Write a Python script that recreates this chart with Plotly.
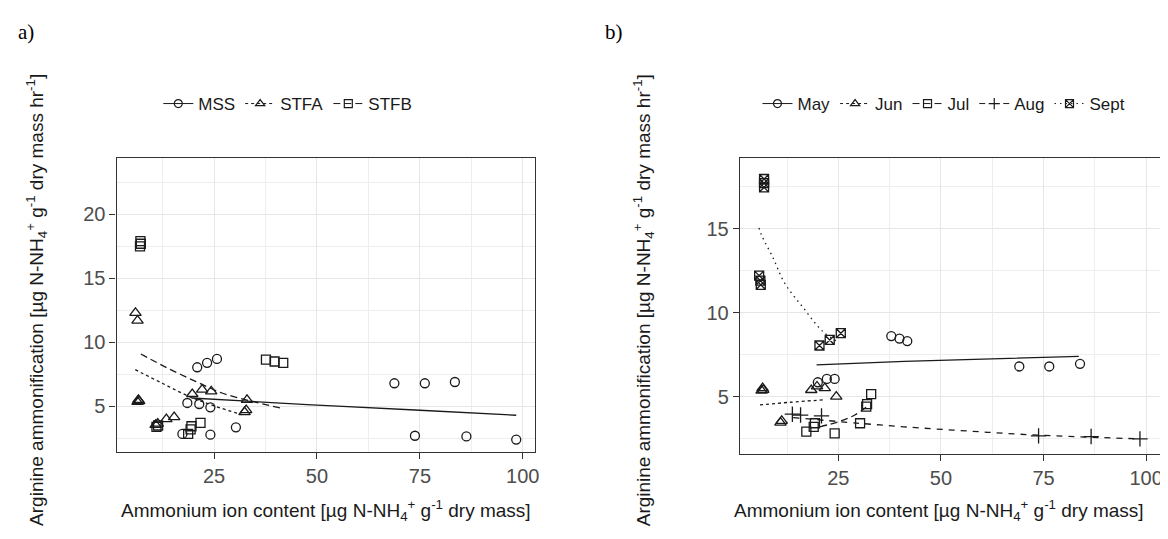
import plotly.graph_objects as go

# ---------------- Panel a data ----------------
mss_x = [18.5, 21.4, 24.1, 20.9, 23.3, 25.7, 17.3, 24.1, 30.3, 68.8, 76.2, 83.5, 73.8, 86.3, 98.4]
mss_y = [5.26, 5.18, 4.92, 8.05, 8.4, 8.7, 2.84, 2.78, 3.36, 6.8, 6.8, 6.9, 2.7, 2.65, 2.4]
stfa_x = [5.9, 6.4, 6.4, 6.6, 6.8, 10.8, 11.3, 13.4, 15.3, 19.7, 22.1, 24.3, 33.0, 32.4, 32.8]
stfa_y = [12.3, 11.7, 5.35, 5.5, 5.4, 3.55, 3.65, 4.0, 4.15, 5.96, 6.3, 6.17, 5.5, 4.55, 4.7]
stfb_x = [7.0, 7.1, 7.2, 11.0, 11.4, 18.7, 19.3, 19.5, 21.7, 37.6, 39.7, 41.8]
stfb_y = [17.5, 17.9, 17.7, 3.4, 3.5, 2.84, 3.2, 3.44, 3.7, 8.65, 8.5, 8.4]

mss_fit_x = [19.5, 47.6, 75.0, 98.4]
mss_fit_y = [5.65, 5.13, 4.69, 4.3]
stfa_fit_x = [5.85, 12.4, 18.9, 25.3, 31.8]
stfa_fit_y = [7.86, 6.8, 5.78, 5.0, 4.35]
stfb_fit_x = [7.2, 13.6, 20.5, 26.9, 34.2, 41.0]
stfb_fit_y = [9.09, 8.0, 6.95, 6.04, 5.39, 4.87]

# ---------------- Panel b data ----------------
may_x = [20.0, 22.2, 24.1, 37.9, 39.9, 41.8, 69.1, 76.4, 83.9]
may_y = [5.85, 6.05, 6.05, 8.6, 8.45, 8.3, 6.79, 6.79, 6.95]
jun_x = [6.3, 6.55, 6.7, 10.9, 11.2, 18.4, 19.8, 21.7, 24.5]
jun_y = [5.35, 5.5, 5.4, 3.45, 3.55, 5.39, 5.6, 5.5, 5.0]
jul_x = [17.2, 19.0, 19.3, 24.1, 30.3, 31.8, 32.0, 33.0]
jul_y = [2.91, 3.2, 3.41, 2.81, 3.41, 4.4, 4.55, 5.14]
aug_x = [13.8, 15.8, 20.9, 73.8, 86.6, 98.5]
aug_y = [3.95, 3.9, 3.85, 2.66, 2.62, 2.48]
sept_x = [6.9, 6.9, 6.9, 5.7, 6.1, 6.0, 20.4, 22.9, 25.6]
sept_y = [17.95, 17.45, 17.7, 12.2, 11.65, 11.9, 8.04, 8.37, 8.77]

may_fit_x = [19.7, 41.1, 83.6]
may_fit_y = [6.88, 7.09, 7.39]
jun_fit_x = [5.9, 13.2, 21.3]
jun_fit_y = [4.5, 4.66, 4.8]
jul_fit_x = [20.5, 25.0, 29.0, 32.5]
jul_fit_y = [3.2, 3.5, 3.9, 4.5]
aug_fit_x = [14.0, 29.5, 41.0, 57.0, 74.0, 98.5]
aug_fit_y = [3.75, 3.42, 3.2, 2.94, 2.7, 2.48]
sept_fit_x = [5.65, 6.3, 9.1, 11.9, 16.4, 21.2, 25.3]
sept_fit_y = [15.04, 14.6, 13.25, 11.76, 10.3, 8.88, 8.2]

groups_a = ["MSS", "STFA", "STFB"]
groups_b = ["May", "Jun", "Jul", "Aug", "Sept"]

FONT = "Liberation Sans, Arial, sans-serif"
INK = "#1a1a1a"
LW = 1.3

# linetypes (ggplot defaults: solid, 22, 42, 44, 13)
DASH = {
    "solid": "solid",
    "22": "3px,3px",
    "42": "7px,4px",
    "44": "6px,6px",
    "13": "1.5px,4px",
}

fig = go.Figure()


def add_series(x, y, fx, fy, name, symbol, dash, xa, ya, legend, msize=9):
    # points
    fig.add_trace(go.Scatter(
        x=x, y=y, mode="markers", xaxis=xa, yaxis=ya, showlegend=False,
        marker=dict(symbol=symbol, size=msize, color=INK,
                    line=dict(color=INK, width=1.3)),
        hoverinfo="skip"))
    # fitted line
    fig.add_trace(go.Scatter(
        x=fx, y=fy, mode="lines", xaxis=xa, yaxis=ya, showlegend=False,
        line=dict(color=INK, width=LW, dash=DASH[dash], shape="spline"),
        hoverinfo="skip"))
    # legend key (marker + line)
    fig.add_trace(go.Scatter(
        x=[None], y=[None], mode="lines+markers", name=name, xaxis=xa, yaxis=ya,
        legend=legend,
        marker=dict(symbol=symbol, size=8, color=INK, line=dict(color=INK, width=1.2)),
        line=dict(color=INK, width=1.0, dash=DASH[dash])))


add_series(mss_x, mss_y, mss_fit_x, mss_fit_y, groups_a[0], "circle-open", "solid", "x", "y", "legend")
add_series(stfa_x, stfa_y, stfa_fit_x, stfa_fit_y, groups_a[1], "triangle-up-open", "22", "x", "y", "legend", 10)
add_series(stfb_x, stfb_y, stfb_fit_x, stfb_fit_y, groups_a[2], "square-open", "42", "x", "y", "legend")

add_series(may_x, may_y, may_fit_x, may_fit_y, groups_b[0], "circle-open", "solid", "x2", "y2", "legend2")
add_series(jun_x, jun_y, jun_fit_x, jun_fit_y, groups_b[1], "triangle-up-open", "22", "x2", "y2", "legend2", 10)
add_series(jul_x, jul_y, jul_fit_x, jul_fit_y, groups_b[2], "square-open", "42", "x2", "y2", "legend2")
add_series(aug_x, aug_y, aug_fit_x, aug_fit_y, groups_b[3], "cross-thin-open", "44", "x2", "y2", "legend2", 11)
add_series(sept_x, sept_y, sept_fit_x, sept_fit_y, groups_b[4], "square-x-open", "13", "x2", "y2", "legend2")

W, H = 1168, 539


def px_x(p):
    return p / W


def px_y(p):
    return 1 - p / H


axis_common = dict(
    showline=True, mirror=True, linecolor="#333333", linewidth=1.2,
    ticks="outside", ticklen=6, tickwidth=1.2, tickcolor="#333333",
    tickfont=dict(family=FONT, size=20, color="#4d4d4d"),
    showgrid=True, gridcolor="#e6e6e6", gridwidth=1.4,
    zeroline=False,
)

legend_common = dict(
    orientation="h", xanchor="center", yanchor="middle",
    font=dict(family=FONT, size=17, color="#1a1a1a"), bgcolor="rgba(0,0,0,0)",
    itemwidth=30, tracegroupgap=0,
)

fig.update_layout(
    width=W, height=H,
    margin=dict(l=0, r=0, t=0, b=0),
    paper_bgcolor="white", plot_bgcolor="white",
    font=dict(family=FONT, color="#222222"),
    xaxis=dict(domain=[px_x(109), px_x(529)], range=[1.3, 102.9], anchor="y",
               tickmode="linear", tick0=0, dtick=25,
               minor=dict(showgrid=True, dtick=12.5, tick0=0, gridcolor="#eeeeee", gridwidth=1),
               **axis_common),
    yaxis=dict(domain=[px_y(444), px_y(150)], range=[1.43, 24.4], anchor="x",
               tickmode="linear", tick0=0, dtick=5,
               minor=dict(showgrid=True, dtick=2.5, tick0=0, gridcolor="#eeeeee", gridwidth=1),
               **axis_common),
    xaxis2=dict(domain=[px_x(735), px_x(1157)], range=[1.0, 103.4], anchor="y2",
                tickmode="linear", tick0=0, dtick=25,
                minor=dict(showgrid=True, dtick=12.5, tick0=0, gridcolor="#eeeeee", gridwidth=1),
                **axis_common),
    yaxis2=dict(domain=[px_y(446), px_y(150)], range=[1.58, 19.2], anchor="x2",
                tickmode="linear", tick0=0, dtick=5,
                minor=dict(showgrid=True, dtick=2.5, tick0=0, gridcolor="#eeeeee", gridwidth=1),
                **axis_common),
    legend=dict(x=px_x(281), y=px_y(96), **legend_common),
    legend2=dict(x=px_x(940), y=px_y(96), **legend_common),
)

xtitle = "Ammonium ion content [µg N-NH<sub>4</sub><sup>+</sup> g<sup>-1</sup> dry mass]"
ytitle = "Arginine ammonification [µg N-NH<sub>4</sub><sup>+</sup> g<sup>-1</sup> dry mass hr<sup>-1</sup>]"

annotations = [
    dict(text="a)", x=px_x(8), y=px_y(24), xanchor="left", yanchor="middle",
         font=dict(family="Liberation Serif, Times New Roman, serif", size=21, color="#000")),
    dict(text="b)", x=px_x(598), y=px_y(24), xanchor="left", yanchor="middle",
         font=dict(family="Liberation Serif, Times New Roman, serif", size=21, color="#000")),
    dict(text=xtitle, x=px_x(319), y=px_y(502), xanchor="center", yanchor="middle",
         font=dict(family=FONT, size=19, color="#1a1a1a")),
    dict(text=xtitle, x=px_x(935), y=px_y(502), xanchor="center", yanchor="middle",
         font=dict(family=FONT, size=19, color="#1a1a1a")),
    dict(text=ytitle, x=px_x(28), y=px_y(292), xanchor="center", yanchor="middle", textangle=-90,
         font=dict(family=FONT, size=19, color="#1a1a1a")),
    dict(text=ytitle, x=px_x(638), y=px_y(292), xanchor="center", yanchor="middle", textangle=-90,
         font=dict(family=FONT, size=19, color="#1a1a1a")),
]
for a in annotations:
    a.update(xref="paper", yref="paper", showarrow=False)
fig.update_layout(annotations=annotations)

fig.write_html("out.html")
